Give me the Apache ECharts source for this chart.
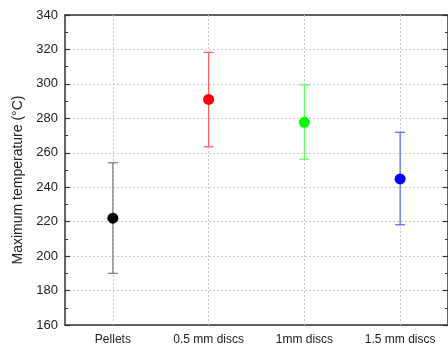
<!DOCTYPE html>
<html>
<head>
<meta charset="utf-8">
<script src="https://cdn.jsdelivr.net/npm/echarts@6/dist/echarts.min.js"></script>
<style>
html,body{margin:0;padding:0;background:#fff;}
#c{width:448px;height:349px;}
</style>
</head>
<body>
<div id="c"></div>
<script>
const categories = ['Pellets', '0.5 mm discs', '1mm discs', '1.5 mm discs'];
const means = [222, 291, 277.7, 244.8];
const lower = [190, 263.5, 256.2, 218.2];
const upper = [254.2, 318.3, 299.4, 271.9];
const pointColors = ['#000000', '#ff0000', '#00ff00', '#0000ff'];
const barColors = ['#7a7a7a', '#ff5c5c', '#5cff5c', '#5c5cff'];
const yMin = 160, yMax = 340, yStep = 20;
const yTitle = 'Maximum temperature (°C)';

const chart = echarts.init(document.getElementById('c'), null, {renderer: 'canvas'});
const axisColor = '#333333';
const font = 'Liberation Sans, Arial, sans-serif';

const errData = categories.map((c, i) => [i, lower[i], upper[i]]);
const ptData = categories.map((c, i) => ({value: [c, means[i]], itemStyle: {color: pointColors[i], opacity: 1}}));

const option = {
  animation: false,
  backgroundColor: '#ffffff',
  textStyle: {fontFamily: font},
  grid: {left: 65, top: 15, width: 386, height: 310},
  xAxis: [{
    type: 'category', data: categories, boundaryGap: true, position: 'bottom',
    axisLine: {lineStyle: {color: axisColor, width: 1.5}},
    axisTick: {alignWithLabel: true, inside: false, length: 5, lineStyle: {color: axisColor, width: 1.2}},
    axisLabel: {color: '#222', fontSize: 12, margin: 9, fontFamily: font},
    splitLine: {show: false}
  }, {
    type: 'category', data: categories, boundaryGap: true, position: 'top',
    axisLine: {lineStyle: {color: axisColor, width: 1.5}},
    axisTick: {alignWithLabel: true, inside: true, length: 5, lineStyle: {color: axisColor, width: 1.2}},
    axisLabel: {show: false},
    splitLine: {show: false}
  }],
  yAxis: [{
    type: 'value', min: yMin, max: yMax, interval: yStep, position: 'left',
    name: yTitle, nameLocation: 'middle', nameGap: 37, nameRotate: 90,
    nameTextStyle: {color: '#222', fontSize: 14, fontFamily: font, padding: [0, 20, 0, 0]},
    axisLine: {show: true, lineStyle: {color: axisColor, width: 1.5}},
    axisTick: {show: true, inside: true, length: 5, lineStyle: {color: axisColor, width: 1.2}},
    minorTick: {show: true, splitNumber: 2, length: 3, lineStyle: {color: axisColor, width: 1}},
    axisLabel: {color: '#222', fontSize: 13, margin: 7, fontFamily: font},
    splitLine: {show: true, lineStyle: {color: '#c8c8c8', type: [2, 2], width: 1}}
  }, {
    type: 'value', min: yMin, max: yMax, interval: yStep, position: 'right',
    axisLine: {show: true, lineStyle: {color: axisColor, width: 1.5}},
    axisTick: {show: true, inside: true, length: 5, lineStyle: {color: axisColor, width: 1.2}},
    minorTick: {show: true, splitNumber: 2, length: 3, lineStyle: {color: axisColor, width: 1}},
    axisLabel: {show: false},
    splitLine: {show: false}
  }],
  series: [{
    type: 'custom',
    xAxisIndex: 0, yAxisIndex: 0,
    z: 2,
    silent: true,
    data: errData,
    renderItem: function (params, api) {
      const i = api.value(0);
      const lo = api.coord([i, api.value(1)]);
      const hi = api.coord([i, api.value(2)]);
      const x = lo[0];
      const w = 5;
      const col = barColors[i];
      const st = {stroke: col, lineWidth: 1.2};
      return {
        type: 'group',
        children: [
          {type: 'line', shape: {x1: x, y1: hi[1], x2: x, y2: lo[1]}, style: st},
          {type: 'line', shape: {x1: x - w, y1: hi[1], x2: x + w, y2: hi[1]}, style: st},
          {type: 'line', shape: {x1: x - w, y1: lo[1], x2: x + w, y2: lo[1]}, style: st}
        ]
      };
    }
  }, {
    type: 'scatter',
    xAxisIndex: 0, yAxisIndex: 0,
    z: 3,
    symbol: 'circle',
    symbolSize: 11,
    itemStyle: {opacity: 1},
    data: ptData,
    markLine: {
      silent: true,
      symbol: ['none', 'none'],
      label: {show: false},
      lineStyle: {color: '#c8c8c8', type: [2, 2], width: 1},
      z: 1,
      data: categories.map(c => ({xAxis: c}))
    }
  }]
};
chart.setOption(option);
</script>
</body>
</html>
